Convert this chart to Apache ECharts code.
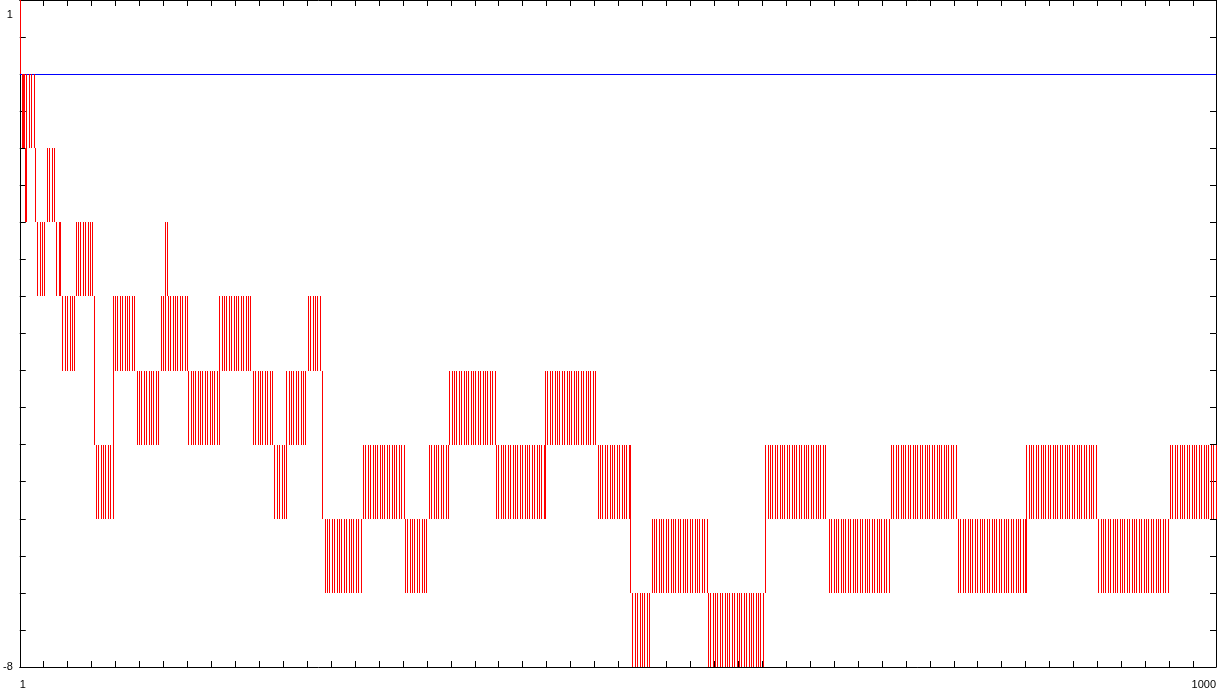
<!DOCTYPE html>
<html>
<head>
<meta charset="utf-8">
<script src="https://cdn.jsdelivr.net/npm/echarts@6/dist/echarts.min.js"></script>
<style>
html,body{margin:0;padding:0;background:#fff;}
#chart{width:1221px;height:693px;}
</style>
</head>
<body>
<div id="chart"></div>
<script>
// Axis ranges and tick labels
const xMin = 1, xMax = 1000;
const yMin = -8, yMax = 1;
const xTickLabels = [1, 1000];
const yTickLabels = [1, -8];
const refLevel = 0; // blue horizontal reference line

// Plateaus: first x of each run, upper level of the run,
// and per-point pattern ('h' = upper level, 'l' = one level below)
const segStart = [1,3,6,7,14,24,30,35,48,63,79,99,119,123,125,142,168,194,214,224,242,254,288,323,343,360,399,440,484,511,529,576,624,677,729,785,842,902,962];
const segTop = [1,0,-1,0,-2,-1,-2,-3,-2,-5,-3,-4,-3,-2,-3,-4,-3,-4,-5,-4,-3,-6,-5,-6,-5,-4,-5,-4,-5,-7,-6,-7,-5,-6,-5,-6,-5,-6,-5];
const segPattern = [
  "hl",
  "lhl",
  "l",
  "hhllhhl",
  "hhllhhllhh",
  "hhllhh",
  "hhllh",
  "hhllhhllhhllh",
  "hhllhhllhhllhhl",
  "hhllhhllhhllhhll",
  "hhllhhllhhllhhllhhll",
  "llhhllhhllhhllhhllhh",
  "hhll",
  "hl",
  "llhhllhhllhhllhhl",
  "llhhllhhllhhllhhllhhllhhll",
  "hhllhhllhhllhhllhhllhhllhh",
  "hhllhhllhhllhhllhhll",
  "llhhllhhll",
  "hhllhhllhhllhhllhh",
  "hhllhhllhhll",
  "hhllhhllhhllhhllhhllhhllhhllhhllhh",
  "hhllhhllhhllhhllhhllhhllhhllhhllhhl",
  "llhhllhhllhhllhhllhh",
  "hhllhhllhhllhhllh",
  "hhllhhllhhllhhllhhllhhllhhllhhllhhllhhl",
  "llhhllhhllhhllhhllhhllhhllhhllhhllhhllhhl",
  "hhllhhllhhllhhllhhllhhllhhllhhllhhllhhllhhll",
  "llhhllhhllhhllhhllhhllhhllh",
  "hhllhhllhhllhhllhh",
  "hhllhhllhhllhhllhhllhhllhhllhhllhhllhhllhhllhhl",
  "llhhllhhllhhllhhllhhllhhllhhllhhllhhllhhllhhllhh",
  "hhllhhllhhllhhllhhllhhllhhllhhllhhllhhllhhllhhllhhlll",
  "llhhllhhllhhllhhllhhllhhllhhllhhllhhllhhllhhllhhllhh",
  "hhllhhllhhllhhllhhllhhllhhllhhllhhllhhllhhllhhllhhllhhll",
  "llhhllhhllhhllhhllhhllhhllhhllhhllhhllhhllhhllhhllhhllhhl",
  "hhllhhllhhllhhllhhllhhllhhllhhllhhllhhllhhllhhllhhllhhllhhll",
  "llhhllhhllhhllhhllhhllhhllhhllhhllhhllhhllhhllhhllhhllhhllhh",
  "hhllhhllhhllhhllhhllhhllhhllhhllhhllhhl"
];

// Build the per-point values table from the runs above
const values = new Array(xMax + 1);
segStart.forEach((s, k) => {
  const p = segPattern[k];
  for (let j = 0; j < p.length; j++) {
    const x = s + j;
    if (x > xMax) break;
    values[x] = p[j] === 'h' ? segTop[k] : segTop[k] - 1;
  }
});
// Vertical strokes where the value changes from one point to the next
const strokes = [];
let prev = values[xMin];
for (let x = xMin + 1; x <= xMax; x++) {
  if (values[x] === undefined) continue;
  if (prev !== undefined && values[x] !== prev) strokes.push([x, prev, values[x]]);
  prev = values[x];
}

const FONT = 'Liberation Sans, Arial, sans-serif';
const chart = echarts.init(document.getElementById('chart'), null, {renderer: 'canvas'});
const axisCommon = {
  type: 'value', min: xMin, max: xMax, interval: 20,
  axisLine: {show: true, onZero: false, lineStyle: {color: '#000', width: 1}},
  axisTick: {show: true, inside: true, length: 6, lineStyle: {color: '#000'}},
  splitLine: {show: false}
};
const yCommon = {
  type: 'value', min: yMin, max: yMax, interval: 0.5,
  axisLine: {show: true, onZero: false, lineStyle: {color: '#000', width: 1}},
  axisTick: {show: true, inside: true, length: 6, lineStyle: {color: '#000'}},
  splitLine: {show: false}
};
chart.setOption({
  animation: false,
  backgroundColor: '#fff',
  grid: {left: 16, right: 5, top: 0, bottom: 26, containLabel: false},
  xAxis: [
    Object.assign({}, axisCommon, {
      position: 'bottom',
      axisLabel: {
        show: true, margin: 12, fontSize: 11, color: '#000', fontFamily: FONT,
        alignMinLabel: 'left', alignMaxLabel: 'right', showMinLabel: true, showMaxLabel: true,
        formatter: v => xTickLabels.indexOf(v) >= 0 ? String(v) : ''
      }
    }),
    Object.assign({}, axisCommon, {position: 'top', axisLabel: {show: false}})
  ],
  yAxis: [
    Object.assign({}, yCommon, {
      position: 'left',
      axisLabel: {
        show: true, margin: 7, fontSize: 11, color: '#000', fontFamily: FONT,
        showMinLabel: true, showMaxLabel: true,
        formatter: v => v === yTickLabels[0] ? '{t|' + v + '}' : (v === yTickLabels[1] ? String(v) : ''),
        rich: {t: {padding: [30, 0, 0, 0], fontSize: 11, color: '#000', fontFamily: FONT}}
      }
    }),
    Object.assign({}, yCommon, {position: 'right', axisLabel: {show: false}})
  ],
  series: [
    {
      // blue reference line, drawn pixel-crisp
      type: 'custom', xAxisIndex: 0, yAxisIndex: 0, z: 1, silent: true,
      data: [[xMin, xMax, refLevel]],
      encode: {x: [0, 1], y: 2},
      renderItem: function (params, api) {
        const a = api.coord([api.value(0), api.value(2)]);
        const b = api.coord([api.value(1), api.value(2)]);
        return {
          type: 'rect',
          shape: {x: Math.round(a[0]), y: Math.floor(a[1]), width: Math.round(b[0] - a[0]), height: 1},
          style: {fill: '#0000ff'}
        };
      }
    },
    {
      type: 'custom', xAxisIndex: 0, yAxisIndex: 0, z: 2, silent: true,
      data: strokes,
      encode: {x: 0, y: [1, 2]},
      clip: false,
      renderItem: function (params, api) {
        const x = api.value(0);
        const p1 = api.coord([x, api.value(1)]);
        const p2 = api.coord([x, api.value(2)]);
        const top = Math.round(Math.min(p1[1], p2[1]));
        const bot = Math.round(Math.max(p1[1], p2[1]));
        return {
          type: 'rect',
          shape: {x: Math.floor(p1[0]), y: top, width: 1, height: Math.max(1, bot - top)},
          style: {fill: '#ff0000'}
        };
      }
    }
  ]
});
</script>
</body>
</html>
